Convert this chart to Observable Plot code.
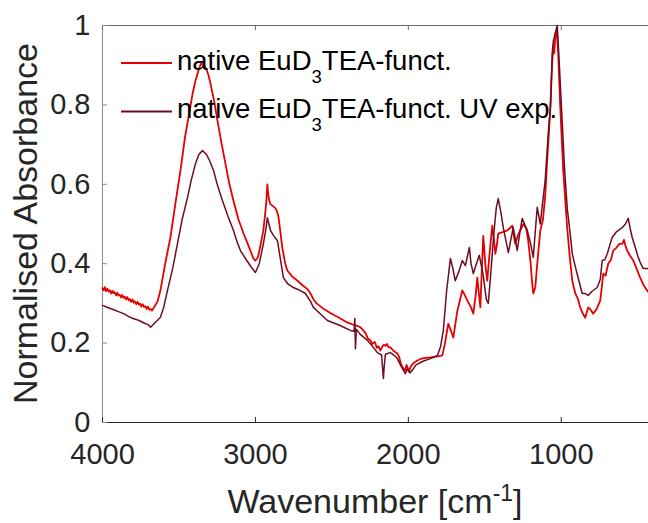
<!DOCTYPE html>
<html>
<head>
<meta charset="utf-8">
<script src="https://cdn.jsdelivr.net/npm/d3@7"></script>
<script src="https://cdn.jsdelivr.net/npm/@observablehq/plot@0.6"></script>
<style>
  html, body { margin: 0; padding: 0; background: #fff; }
  #chart svg { display: block; }
</style>
</head>
<body>
<div id="chart"></div>
<script>
// FTIR spectra, wavenumber [cm^-1] vs normalised absorbance
const seriesNames = ["native EuD3TEA-funct.", "native EuD3TEA-funct. UV exp."];
const seriesColors = ["#e60000", "#6e0c22"];

const nativeSpectrum = [
  [4000,.338],[3992,.333],[3985,.341],[3976,.331],[3968,.337],[3961,.330],[3952,.333],[3944,.325],
  [3935,.332],[3929,.326],[3920,.328],[3911,.320],[3903,.327],[3896,.320],[3887,.322],[3879,.315],
  [3870,.321],[3862,.314],[3855,.317],[3846,.310],[3838,.316],[3829,.308],[3821,.311],[3813,.304],
  [3804,.310],[3796,.302],[3788,.305],[3779,.298],[3771,.304],[3762,.297],[3754,.299],[3745,.292],
  [3737,.298],[3728,.291],[3720,.293],[3711,.286],[3703,.292],[3694,.284],[3686,.286],[3676,.282],
  [3660,.292],[3640,.305],[3621,.333],[3590,.40],[3556,.466],[3520,.56],[3490,.635],
  [3460,.72],[3438,.768],[3410,.83],[3392,.861],[3370,.89],[3355,.905],[3340,.90],[3320,.89],
  [3305,.872],[3294,.854],[3270,.81],[3248,.76],[3220,.70],[3196,.652],[3170,.60],[3144,.559],
  [3110,.51],[3090,.49],[3078,.476],[3050,.45],[3025,.425],[3013,.413],[3000,.408],[2985,.415],
  [2970,.44],[2948,.484],[2935,.53],[2928,.56],[2922,.60],[2916,.575],[2910,.56],[2902,.55],
  [2885,.545],[2870,.54],[2862,.535],[2858,.53],[2850,.52],[2840,.49],[2824,.44],[2805,.40],
  [2791,.383],[2760,.368],[2725,.357],[2690,.345],[2660,.336],[2640,.325],[2620,.31],[2600,.30],
  [2560,.288],[2510,.276],[2450,.263],[2400,.252],[2379,.249],[2350,.245],[2330,.243],[2314,.24],
  [2295,.232],[2280,.225],[2265,.212],[2248,.207],[2235,.198],[2220,.203],[2205,.188],[2195,.192],
  [2183,.181],[2172,.19],[2160,.196],[2150,.193],[2140,.198],[2130,.19],[2118,.189],[2105,.184],
  [2095,.18],[2080,.176],[2072,.174],[2060,.165],[2050,.15],[2040,.14],[2030,.135],[2020,.131],
  [2012,.145],[2005,.138],[1995,.128],[1987,.139],[1975,.146],[1965,.15],[1941,.156],[1920,.16],
  [1900,.162],[1856,.164],[1820,.166],[1790,.168],[1778,.169],[1760,.20],[1739,.249],[1725,.235],
  [1706,.214],[1680,.28],[1647,.333],[1630,.32],[1614,.307],[1590,.29],[1575,.274],[1560,.32],
  [1549,.365],[1540,.33],[1529,.29],[1520,.38],[1510,.47],[1497,.40],[1484,.357],[1470,.42],
  [1451,.496],[1440,.46],[1431,.425],[1420,.45],[1412,.476],[1380,.48],[1353,.484],[1335,.49],
  [1320,.496],[1310,.47],[1301,.45],[1285,.47],[1268,.484],[1248,.50],[1230,.49],[1216,.458],
  [1200,.40],[1190,.35],[1183,.325],[1170,.34],[1157,.40],[1145,.45],[1137,.484],[1120,.51],
  [1105,.57],[1092,.66],[1072,.786],[1060,.90],[1052,.95],[1046,.93],[1039,.97],[1030,.99],
  [1020,.93],[1007,.80],[987,.635],[961,.49],[945,.42],[928,.357],[908,.325],[890,.31],
  [876,.29],[860,.275],[843,.264],[835,.275],[824,.29],[810,.285],[791,.274],[770,.285],
  [745,.307],[735,.34],[725,.375],[710,.37],[693,.40],[675,.41],[660,.433],[640,.44],
  [620,.45],[601,.45],[590,.46],[580,.445],[569,.433],[550,.42],[529,.408],[510,.39],
  [484,.365],[460,.345],[438,.332],[420,.325],[400,.32]
];

const uvSpectrum = [
  [4000,.295],[3975,.291],[3950,.287],[3925,.284],[3900,.28],[3875,.276],[3850,.272],[3825,.266],
  [3800,.262],[3775,.259],[3750,.255],[3725,.250],[3700,.246],[3686,.24],[3660,.25],[3621,.265],
  [3600,.29],[3575,.333],[3540,.39],[3510,.45],[3480,.51],[3444,.567],[3420,.61],[3392,.652],
  [3370,.675],[3346,.685],[3320,.675],[3300,.66],[3274,.635],[3250,.60],[3216,.559],[3180,.52],
  [3144,.484],[3120,.455],[3098,.433],[3060,.41],[3030,.393],[3000,.378],[2975,.40],[2948,.45],
  [2930,.49],[2922,.516],[2912,.50],[2902,.484],[2880,.47],[2856,.458],[2840,.42],[2817,.365],
  [2790,.35],[2752,.34],[2710,.333],[2673,.325],[2640,.305],[2621,.29],[2580,.275],[2529,.257],
  [2450,.245],[2379,.232],[2355,.23],[2350,.262],[2346,.186],[2340,.235],[2314,.222],[2268,.207],
  [2230,.19],[2203,.176],[2175,.17],[2168,.135],[2163,.111],[2158,.14],[2150,.172],[2118,.176],
  [2095,.17],[2072,.161],[2045,.14],[2020,.123],[2005,.135],[1990,.125],[1975,.131],[1950,.145],
  [1900,.155],[1856,.161],[1830,.165],[1810,.169],[1790,.19],[1771,.232],[1750,.33],[1725,.413],
  [1710,.39],[1693,.357],[1670,.38],[1647,.408],[1627,.395],[1601,.441],[1590,.40],[1575,.375],
  [1555,.40],[1536,.421],[1510,.37],[1490,.31],[1477,.30],[1460,.38],[1440,.48],[1425,.54],
  [1412,.564],[1395,.53],[1379,.491],[1346,.428],[1330,.46],[1314,.491],[1300,.46],[1288,.433],
  [1270,.48],[1255,.514],[1240,.50],[1222,.484],[1200,.45],[1183,.416],[1170,.48],[1157,.542],
  [1137,.50],[1120,.56],[1105,.61],[1085,.728],[1070,.80],[1059,.93],[1052,.96],[1040,.98],
  [1026,1.0],[1015,.92],[994,.76],[980,.65],[961,.54],[940,.47],[928,.425],[902,.383],
  [880,.35],[863,.325],[845,.325],[824,.32],[800,.33],[765,.34],[745,.36],[732,.408],
  [715,.41],[699,.425],[680,.45],[667,.466],[640,.48],[601,.491],[580,.50],[562,.514],
  [550,.49],[536,.466],[515,.44],[497,.416],[480,.40],[464,.388],[440,.388],[400,.385]
];

const xTicks = [4000, 3000, 2000, 1000];
const yTicks = [0, 0.2, 0.4, 0.6, 0.8, 1];

const W = 648, H = 523;
const mL = 102, mT = 25, mB = 101;
const plotH = H - mT - mB;
const plotW = W - mL;
const font = "'Liberation Sans', Arial, Helvetica, sans-serif";

const rows = (pairs, s) => pairs.map(([wn, a]) => ({wn, a, s}));
const nativeRows = rows(nativeSpectrum, seriesNames[0]);
const uvRows = rows(uvSpectrum, seriesNames[1]);

const chart = Plot.plot({
  width: W,
  height: H,
  marginLeft: mL,
  marginRight: 0,
  marginTop: mT,
  marginBottom: mB,
  style: {fontFamily: font, background: "#fff", color: "#262626"},
  x: {domain: [4000, 400], range: [mL, 652.5]},
  y: {domain: [0, 1]},
  marks: [
    // box edges and inward ticks
    Plot.ruleX([4000], {stroke: "#8a8a8a", strokeWidth: 1}),
    Plot.ruleY([1], {stroke: "#6a6a6a", strokeWidth: 1}),
    Plot.ruleY([0], {stroke: "#262626", strokeWidth: 1}),
    Plot.ruleX(xTicks, {insetTop: plotH - 5, stroke: "#262626"}),
    Plot.ruleX(xTicks, {insetBottom: plotH - 5, stroke: "#6a6a6a"}),
    Plot.ruleY(yTicks, {insetRight: plotW - 5, stroke: "#8a8a8a"}),
    Plot.axisX(xTicks, {tickSize: 0, tickPadding: 21, fontSize: 29, label: null, fill: "#262626",
      tickFormat: d => String(d)}),
    Plot.axisY(yTicks, {tickSize: 0, tickPadding: 12, fontSize: 29, label: null, fill: "#262626",
      tickFormat: d => String(d)}),
    Plot.line(nativeRows, {x: "wn", y: "a", stroke: seriesColors[0], strokeWidth: 1.8, strokeLinejoin: "round"}),
    Plot.line(uvRows, {x: "wn", y: "a", stroke: seriesColors[1], strokeWidth: 1.5, strokeLinejoin: "round"})
  ]
});

const svg = d3.select(chart);

// axis titles
svg.append("text")
  .attr("transform", `translate(37,${mT + plotH / 2}) rotate(-90)`)
  .attr("text-anchor", "middle")
  .attr("font-family", font)
  .attr("font-size", 34)
  .attr("fill", "#262626")
  .text("Normalised Absorbance");

const xl = svg.append("text")
  .attr("x", 375)
  .attr("y", 513)
  .attr("text-anchor", "middle")
  .attr("font-family", font)
  .attr("font-size", 34)
  .attr("fill", "#262626");
xl.append("tspan").text("Wavenumber [cm");
xl.append("tspan").attr("dy", -12).attr("font-size", 23).text("-1");
xl.append("tspan").attr("dy", 12).text("]");

// legend (no box)
const legendRows = [63, 111.5];
seriesNames.forEach((name, i) => {
  const y = legendRows[i];
  svg.append("line")
    .attr("x1", 121).attr("x2", 172).attr("y1", y).attr("y2", y)
    .attr("stroke", seriesColors[i]).attr("stroke-width", 1.8);
  const t = svg.append("text")
    .attr("x", 177).attr("y", y + 6.5)
    .attr("text-anchor", "start")
    .attr("font-family", font)
    .attr("font-size", 27.5)
    .attr("fill", "#000");
  const [pre, post] = name.split("3");
  t.append("tspan").text(pre);
  t.append("tspan").attr("dy", 13).attr("font-size", 18.5).text("3");
  t.append("tspan").attr("dy", -13).text(post);
});

document.getElementById("chart").appendChild(chart);
</script>
</body>
</html>
